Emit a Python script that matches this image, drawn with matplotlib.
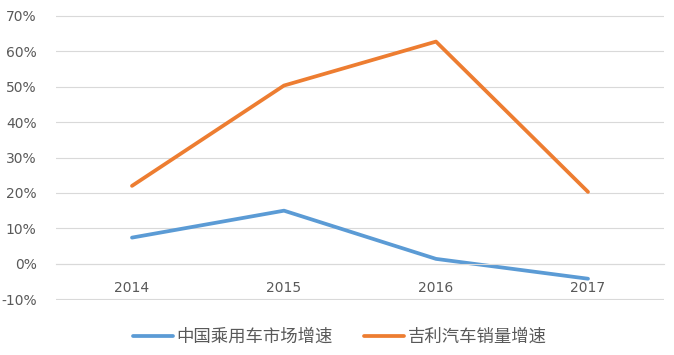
import matplotlib
matplotlib.use('Agg')
import matplotlib.pyplot as plt
from matplotlib.ticker import FuncFormatter

plt.rcParams['font.family'] = ['Noto Sans CJK SC', 'DejaVu Sans']

years = ['2014', '2015', '2016', '2017']
china_market = [7.4, 15.0, 1.4, -4.2]
geely_sales = [22.0, 50.3, 62.7, 20.3]
series_names = ['中国乘用车市场增速', '吉利汽车销量增速']

fig = plt.figure(figsize=[6.74, 3.55], dpi=100)
ax = fig.add_axes([56 / 674, 1 - 300 / 355, 608 / 674, 285 / 355])

x = list(range(len(years)))
ax.plot(x, china_market, color='#5B9BD5', lw=2.7, label=series_names[0], solid_capstyle='round')
ax.plot(x, geely_sales, color='#ED7D31', lw=2.7, label=series_names[1], solid_capstyle='round')

ax.set_xlim(-0.5, len(years) - 0.5)
ax.set_ylim(-10.2, 70.2)
ax.set_yticks(range(-10, 71, 10))
ax.yaxis.set_major_formatter(FuncFormatter(lambda v, p: '%d%%' % v))
ax.grid(axis='y', color='#D9D9D9', lw=0.8)
ax.set_axisbelow(True)

for s in ['top', 'right', 'left']:
    ax.spines[s].set_visible(False)
ax.spines['bottom'].set_position(('data', 0))
ax.spines['bottom'].set_color('#D9D9D9')
ax.spines['bottom'].set_linewidth(0.8)

ax.set_xticks(x)
ax.set_xticklabels(years)
ax.tick_params(axis='x', length=0, pad=12, labelsize=10, labelcolor='#595959')
ax.tick_params(axis='y', length=0, pad=14, labelsize=10, labelcolor='#595959')
for lab in ax.get_yticklabels() + ax.get_xticklabels():
    lab.set_family(['DejaVu Sans'])

fig.legend(loc='center', bbox_to_anchor=(340 / 674, 1 - 337 / 355), ncol=2, frameon=False,
           fontsize=12.5, labelcolor='#595959', handlelength=2.3, columnspacing=1.8,
           handletextpad=0.22, borderpad=0, borderaxespad=0)

fig.savefig('out.png', dpi=100)
